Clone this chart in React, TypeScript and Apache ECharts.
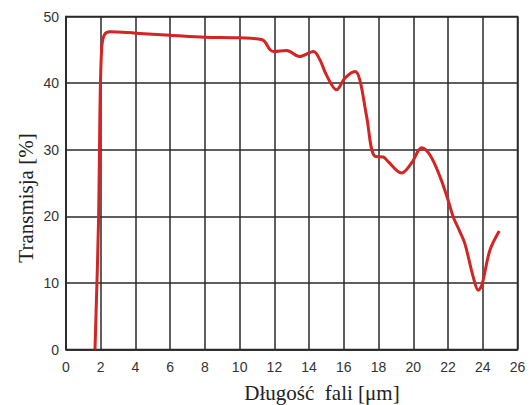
import React, { useEffect, useRef } from "react";
import * as echarts from "echarts";

const wavelength = [1.67, 1.88, 1.95, 2.05, 2.2, 2.55, 4, 6, 8, 10, 11.3, 11.75, 11.95, 12.7, 13.45, 14.25, 14.62, 15.0, 15.58, 16.06, 16.64, 16.92, 17.31, 17.79, 18.27, 18.55, 19.32, 19.9, 20.48, 20.96, 21.53, 22.0, 22.3, 22.68, 22.97, 23.45, 23.74, 23.95, 24.41, 24.95];
const transmission = [0, 20, 35, 45, 47.2, 47.7, 47.5, 47.2, 46.9, 46.8, 46.5, 45.0, 44.75, 44.9, 44.0, 44.75, 43.5, 41.2, 39.0, 40.75, 41.75, 40.5, 35.0, 29.0, 28.9, 28.2, 26.5, 28.0, 30.3, 29.2, 26.0, 22.45, 19.9, 17.7, 15.9, 10.9, 8.9, 9.7, 14.9, 17.8];
const xTicks = [0, 2, 4, 6, 8, 10, 12, 14, 16, 18, 20, 22, 24, 26];
const yTicks = [0, 10, 20, 30, 40, 50];
const xTitle = "Długość  fali [μm]";
const yTitle = "Transmisja [%]";

export default function App() {
  const ref = useRef<HTMLDivElement>(null);
  useEffect(() => {
    document.body.style.margin = "0";
    const chart = echarts.init(ref.current!, undefined, { renderer: "svg" });
    const gridColor = "#2a2a2a";
    chart.setOption({
      animation: false,
      backgroundColor: "#ffffff",
      grid: { left: 66, right: 14.5, top: 16.5, bottom: 55.5, show: true, borderColor: gridColor, borderWidth: 1.5 },
      xAxis: {
        type: "value",
        min: xTicks[0],
        max: xTicks[xTicks.length - 1],
        interval: 2,
        axisLine: { show: true, lineStyle: { color: gridColor, width: 1.5 } },
        axisTick: { show: false },
        splitLine: { show: true, lineStyle: { color: gridColor, width: 1.5 } },
        axisLabel: { color: "#333", fontSize: 14, fontFamily: "Liberation Sans", margin: 10 },
      },
      yAxis: {
        type: "value",
        min: yTicks[0],
        max: yTicks[yTicks.length - 1],
        interval: 10,
        axisLine: { show: true, lineStyle: { color: gridColor, width: 1.5 } },
        axisTick: { show: false },
        splitLine: { show: true, lineStyle: { color: gridColor, width: 1.5 } },
        axisLabel: { color: "#333", fontSize: 14, fontFamily: "Liberation Sans", margin: 7 },
      },
      graphic: [
        {
          type: "text",
          x: 322,
          y: 393,
          style: { text: xTitle, fill: "#222", font: "21px 'Liberation Serif'", align: "center", verticalAlign: "middle" },
        },
        {
          type: "text",
          x: 26,
          y: 198,
          rotation: Math.PI / 2,
          style: { text: yTitle, fill: "#222", font: "21px 'Liberation Serif'", align: "center", verticalAlign: "middle" },
        },
      ],
      series: [
        {
          type: "line",
          data: wavelength.map((w, i) => [w, transmission[i]]),
          showSymbol: false,
          smooth: 0.35,
          lineStyle: { color: "#d42424", width: 3 },
        },
      ],
    });
    return () => chart.dispose();
  }, []);
  return <div ref={ref} style={{ width: 532, height: 405 }} />;
}
